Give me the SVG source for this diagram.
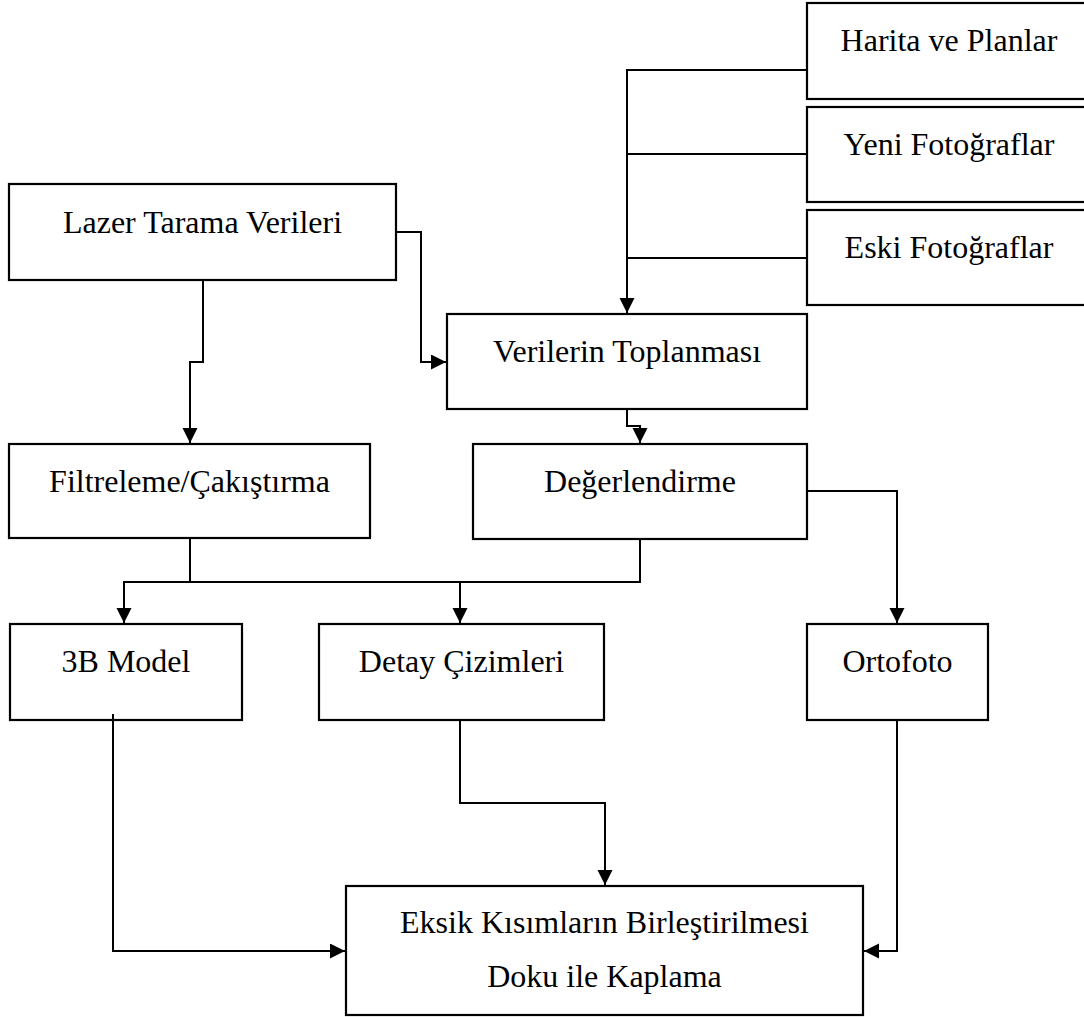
<svg xmlns="http://www.w3.org/2000/svg" width="1084" height="1017" viewBox="0 0 1084 1017">
<style>
.box{fill:#fff;stroke:#000;stroke-width:2.2}
.lbl{font-family:"Liberation Serif","Times New Roman",serif;font-size:32px;fill:#000;text-anchor:middle}
.con{fill:none;stroke:#000;stroke-width:2}
</style>
<defs>
<marker id="arr" markerUnits="userSpaceOnUse" markerWidth="16" markerHeight="16" refX="15" refY="7.5" orient="auto">
<path d="M0,0 L15,7.5 L0,15 Z" fill="#000"/>
</marker>
</defs>
<rect width="1084" height="1017" fill="#fff"/>
<g id="harita"><rect class="box" x="807" y="3" width="290" height="96"/><text class="lbl" x="949" y="51">Harita ve Planlar</text></g>
<g id="yeni"><rect class="box" x="807" y="107" width="290" height="95"/><text class="lbl" x="949" y="155">Yeni Fotoğraflar</text></g>
<g id="eski"><rect class="box" x="807" y="210" width="290" height="95"/><text class="lbl" x="949" y="258">Eski Fotoğraflar</text></g>
<g id="lazer"><rect class="box" x="9" y="184" width="387" height="96"/><text class="lbl" x="202.5" y="233">Lazer Tarama Verileri</text></g>
<g id="verilerin"><rect class="box" x="447" y="314" width="360" height="95"/><text class="lbl" x="627" y="362">Verilerin Toplanması</text></g>
<g id="filtreleme"><rect class="box" x="9" y="444" width="361" height="94"/><text class="lbl" x="189.5" y="492">Filtreleme/Çakıştırma</text></g>
<g id="degerlendirme"><rect class="box" x="473" y="444" width="334" height="95"/><text class="lbl" x="640" y="492">Değerlendirme</text></g>
<g id="model"><rect class="box" x="10" y="624" width="232" height="96"/><text class="lbl" x="126" y="672">3B Model</text></g>
<g id="detay"><rect class="box" x="319" y="624" width="285" height="96"/><text class="lbl" x="461.5" y="672">Detay Çizimleri</text></g>
<g id="ortofoto"><rect class="box" x="807" y="624" width="181" height="96"/><text class="lbl" x="897.5" y="672">Ortofoto</text></g>
<g id="eksik"><rect class="box" x="346" y="886" width="517" height="129"/><text class="lbl" x="604.5" y="933">Eksik Kısımların Birleştirilmesi</text><text class="lbl" x="604.5" y="987">Doku ile Kaplama</text></g>
<g id="connectors">
<path class="con" d="M807,70 H627 V313" marker-end="url(#arr)"/>
<path class="con" d="M807,154 H627"/>
<path class="con" d="M807,258 H627"/>
<path class="con" d="M396,232 H421 V362 H446" marker-end="url(#arr)"/>
<path class="con" d="M203,280 V362 H190 V443" marker-end="url(#arr)"/>
<path class="con" d="M627,409 V426 H640 V443" marker-end="url(#arr)"/>
<path class="con" d="M807,491 H897 V623" marker-end="url(#arr)"/>
<path class="con" d="M190,538 V582"/>
<path class="con" d="M640,539 V582 H124 V623" marker-end="url(#arr)"/>
<path class="con" d="M460,582 V623" marker-end="url(#arr)"/>
<path class="con" d="M113,714 V951 H345" marker-end="url(#arr)"/>
<path class="con" d="M460,720 V803 H605 V885" marker-end="url(#arr)"/>
<path class="con" d="M897,720 V951 H864" marker-end="url(#arr)"/>
</g>
</svg>
